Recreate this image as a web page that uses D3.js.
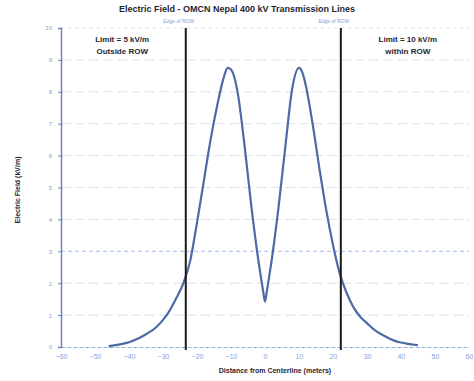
<!DOCTYPE html>
<html>
<head>
<meta charset="utf-8">
<script src="https://cdn.jsdelivr.net/npm/d3@7"></script>
<style>
body { margin: 0; background: #fff; }
text { font-family: "Liberation Sans", Arial, sans-serif; }
</style>
</head>
<body>
<div class="chart"></div>
<script>
var margin = {top: 28, right: 5, bottom: 34, left: 61}
var width = 474 - margin.left - margin.right;
var height = 381 - margin.top - margin.bottom;

// distance from centerline (m) and field (kV/m)
var distance = [-46, -44, -42, -40, -37, -35, -32, -30, -28, -26, -24, -22, -20, -18, -16, -14, -12, -11, -10, -9, -8, -6, -4, -2, -1, -0.5, 0,
	0.5, 1, 2, 4, 6, 8, 10, 11, 12, 14, 16, 18, 20, 22, 24, 26, 28, 30, 32, 35, 38, 40, 42, 44, 45];
var field = [0.03, 0.06, 0.1, 0.15, 0.28, 0.4, 0.62, 0.85, 1.15, 1.55, 2.0, 2.7, 3.9, 5.2, 6.5, 7.6, 8.5, 8.75, 8.7, 8.45, 7.95, 6.3, 4.4, 2.75, 2.05, 1.72, 1.42,
	1.72, 2.05, 2.75, 4.4, 6.3, 8.1, 8.75, 8.6, 8.2, 7.0, 5.6, 4.3, 3.2, 2.3, 1.7, 1.25, 0.95, 0.75, 0.55, 0.35, 0.2, 0.14, 0.1, 0.07, 0.06];
var rowEdges = [-23.3, 22.3];
var xTicks = [-60, -50, -40, -30, -20, -10, 0, 10, 20, 30, 40, 50, 60];
var yTicks = [0, 1, 2, 3, 4, 5, 6, 7, 8, 9, 10];

var svg = d3.select('.chart')
	.append('svg')
		.attr('width', 474)
		.attr('height', 381)
	.append('g')
		.attr('transform', `translate(${margin.left}, ${margin.top})`)

var xScale = d3.scaleLinear().domain([-60, 60]).range([0, width]);
var yScale = d3.scaleLinear().domain([0, 10]).range([height, 0]);

// grid
svg.selectAll('.grid')
	.data(yTicks.slice(1))
	.enter()
	.append('line')
		.attr('x1', 0)
		.attr('x2', width)
		.attr('y1', d => yScale(d))
		.attr('y2', d => yScale(d))
		.style('stroke', d => d == 3 ? '#9fbbe8' : '#d6e2f5')
		.style('stroke-width', 1)
		.style('stroke-dasharray', d => d == 3 || d == 10 ? '4,3' : '10,4');

// x axis
var xAxis = d3.axisBottom(xScale).tickValues(xTicks).tickSize(0).tickPadding(7);
var gx = svg.append('g')
	.attr('transform', `translate(0, ${height})`)
	.call(xAxis);
gx.select('.domain').style('stroke', '#8fb0e0').style('stroke-dasharray', '4,2');
gx.selectAll('text').style('fill', '#7f9fd6').style('font-size', '7px');

// y axis
var yAxis = d3.axisLeft(yScale).tickValues(yTicks).tickSize(3).tickPadding(6);
var gy = svg.append('g').call(yAxis);
gy.select('.domain').style('stroke', '#6d86b5').style('stroke-width', 1.5);
gy.selectAll('line').style('stroke', '#6d86b5');
gy.selectAll('text').style('fill', '#7f9fd6').style('font-size', '6px');

// curve
var pts = distance.map((d, i) => [d, field[i]]);
svg.append('path')
	.datum(pts)
	.attr('d', d3.line().x(d => xScale(d[0])).y(d => yScale(d[1])).curve(d3.curveMonotoneX))
	.style('fill', 'none')
	.style('stroke', '#4d6aa6')
	.style('stroke-width', 2.2);

// edge of ROW
svg.selectAll('.edge')
	.data(rowEdges)
	.enter()
	.append('line')
		.attr('x1', d => xScale(d))
		.attr('x2', d => xScale(d))
		.attr('y1', 0)
		.attr('y2', height + 3)
		.style('stroke', '#1a1a1a')
		.style('stroke-width', 2);

svg.selectAll('.edgelabel')
	.data(rowEdges)
	.enter()
	.append('text')
		.attr('x', d => xScale(d) - 7)
		.attr('y', -5)
		.attr('text-anchor', 'middle')
		.style('font-size', '5px')
		.style('fill', '#7f9fd6')
		.text('Edge of ROW');

// limit notes
var notes = [
	{x: -42, lines: ['Limit = 5 kV/m', 'Outside ROW']},
	{x: 42, lines: ['Limit = 10 kV/m', 'within ROW']}
];
notes.forEach(n => {
	n.lines.forEach((t, i) => {
		svg.append('text')
			.attr('x', xScale(n.x))
			.attr('y', 14 + i * 12)
			.attr('text-anchor', 'middle')
			.style('font-size', '8px')
			.style('font-weight', 'bold')
			.style('fill', '#1f2633')
			.text(t);
	});
});

// titles
svg.append('text')
	.attr('x', 237 - margin.left)
	.attr('y', -16)
	.attr('text-anchor', 'middle')
	.style('font-size', '9px')
	.style('font-weight', 'bold')
	.style('fill', '#1f2633')
	.text('Electric Field - OMCN Nepal 400 kV Transmission Lines');

svg.append('text')
	.attr('x', 275 - margin.left)
	.attr('y', height + 26)
	.attr('text-anchor', 'middle')
	.style('font-size', '7px')
	.style('font-weight', 'bold')
	.style('fill', '#1f2633')
	.text('Distance from Centerline (meters)');

svg.append('text')
	.attr('transform', `translate(${18 - margin.left}, ${190 - margin.top}) rotate(-90)`)
	.attr('text-anchor', 'middle')
	.attr('dy', '0.35em')
	.style('font-size', '7px')
	.style('font-weight', 'bold')
	.style('fill', '#1f2633')
	.text('Electric Field (kV/m)');
</script>
</body>
</html>
